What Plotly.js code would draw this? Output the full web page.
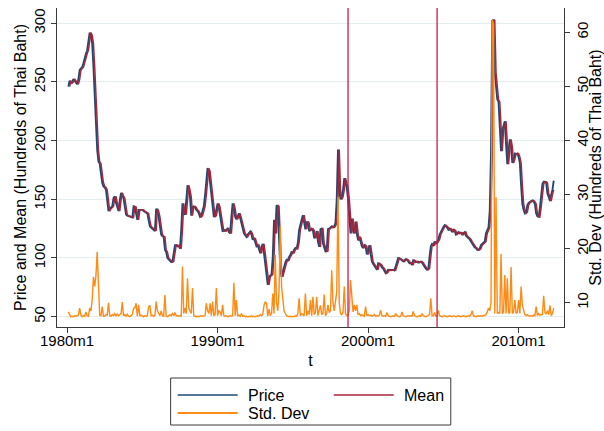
<!DOCTYPE html>
<html><head><meta charset="utf-8">
<script src="https://cdn.plot.ly/plotly-3.0.1.min.js"></script>
<style>html,body{margin:0;padding:0;background:#fff;} #chart{width:604px;height:431px;}</style>
</head><body><div id="chart"></div>
<script>
// ---- data (monthly, Stata %tm style labels) ----
const priceStart = '1980m2';
const priceVals = [
246,251,249,250,252.5,251,249,248,252,260,
261.5,262.5,266,271,274,277,284,292,290,283,
263,237,212,192,182,180.5,172,164,161,160,
158,149,140,142,143.5,144,151,152.5,147,144,
140,149,155.5,153,151,144,137,136,135.5,135,
135,134.5,144,143.5,138,132.5,141,141,140.5,141,
140,139.5,139,138,132,127,126,125,124,123,
142,140,135,129,120,118.5,118,107,105,100,
99,98,96.5,97,102.5,111,111,110,110.5,108,
124,146.5,138,137,149,162,158,152,136,143.5,
144,143,141,140,138,135,136,140,144,153.5,
165,176.5,174,164,158,149.5,135,136,142,146.5,
143,135,126.5,122.5,124,123,124,125,122,121,
135,146.5,142,135,133,136,138,134,129.5,126,
121,119.5,118,120,121,122.5,120,115.5,117,112,
110,111,107,104,109.5,112,104,95.5,87,77,
84,85.5,86,101,132.5,121,145,144,112,90,
84,88,93,96,98.5,98,101,102.5,105.5,104,
107,108.5,108,113,124,130,132.5,136.5,129,124.5,
131,130,123,124,125,123.5,117,118,123,114,
109.5,124.5,125,112.5,109.5,105.5,106,124.5,125,126.5,
127,126,127,130,150,192.5,158,150,152,158,
168,164,160,150,135,121,133.5,124,121,131,
121,115,118,114,110,108.5,111,110,103,105.5,
111,104,97,95,93,91,90,95.5,95,94,
92,91,89,87,88,90,89.5,90,89.5,90,
89.5,93,97,100,99.5,99,98,97,98,99,
98.5,97,95.5,96,94,98,97.5,96.5,97,96,
96.5,97,96,94,93,91,90,91,101,110,
112,111,114,112,114,115.5,120,122.5,124,126.5,
128,127,126,124,125,124,122,124,123,120,
121,122,121,121.5,120,121,122,119,118,117,
116,114,112,110,109,108.5,107,106.8,108,111,
112,113,114,121,124.5,126,140,190,302,303,
258,243,235,233,213,191,209,212,216.5,197,
180,192,201,195,181,184,189,188.5,189,186,
181,162,146,141,138,139,145,147,148,148.5,
149,148,146,138,135.5,135,143,155,163,165,
165,164,155,152,148.5,154,158,166
];
const meanStart = '1980m3';
const meanVals = [
246,251,249,250,252.5,251,249,248,252,260,
261.5,262.5,266,271,274,277,284,292,290,283,
263,237,212,192,182,180.5,172,164,161,160,
158,149,140,142,143.5,144,151,152.5,147,144,
140,149,155.5,153,151,144,137,136,135.5,135,
135,134.5,144,143.5,138,132.5,141,141,140.5,141,
140,139.5,139,138,132,127,126,125,124,123,
142,140,135,129,120,118.5,118,107,105,100,
99,98,96.5,97,102.5,111,111,110,110.5,108,
124,146.5,138,137,149,162,158,152,136,143.5,
144,143,141,140,138,135,136,140,144,153.5,
165,176.5,174,164,158,149.5,135,136,142,146.5,
143,135,126.5,122.5,124,123,124,125,122,121,
135,146.5,142,135,133,136,138,134,129.5,126,
121,119.5,118,120,121,122.5,120,115.5,117,112,
110,111,107,104,109.5,112,104,95.5,87,77,
84,85.5,86,101,132.5,121,145,144,112,90,
84,88,93,96,98.5,98,101,102.5,105.5,104,
107,108.5,108,113,124,130,132.5,136.5,129,124.5,
131,130,123,124,125,123.5,117,118,123,114,
109.5,124.5,125,112.5,109.5,105.5,106,124.5,125,126.5,
127,126,127,130,150,192.5,158,150,152,158,
168,164,160,150,135,121,133.5,124,121,131,
121,115,118,114,110,108.5,111,110,103,105.5,
111,104,97,95,93,91,90,95.5,95,94,
92,91,89,87,88,90,89.5,90,89.5,90,
89.5,93,97,100,99.5,99,98,97,98,99,
98.5,97,95.5,96,94,98,97.5,96.5,97,96,
96.5,97,96,94,93,91,90,91,101,110,
112,111,114,112,114,115.5,120,122.5,124,126.5,
128,127,126,124,125,124,122,124,123,120,
121,122,121,121.5,120,121,122,119,118,117,
116,114,112,110,109,108.5,107,106.8,108,111,
112,113,114,121,124.5,126,140,190,302,303,
258,243,235,233,213,191,209,212,216.5,197,
180,192,201,195,181,184,189,188.5,189,186,
181,162,146,141,138,139,145,147,148,148.5,
149,148,146,138,135.5,135,143,155,163,165,
165,164,155,152,148.5,154,158
];
const sdStart = '1980m2';
const sdVals = [
8.3,7.7,7.4,7.5,7.4,7.6,7.5,7.6,7.7,9.0,
7.7,7.4,7.6,7.5,8.3,7.6,7.5,9.0,8.5,10.5,
14.8,13,15,19.4,14,7.7,7.6,9.3,7.5,7.5,
7.8,7.7,10.0,7.6,7.5,7.8,7.6,8,7.6,7.9,
7.6,7.8,8,10.1,7.6,7.8,7.5,7.9,7.5,7.4,
7.6,7.8,9.0,9.0,9.9,7.5,9.6,7.6,7.7,7.5,
7.4,7.6,7.5,7.6,9.3,9.5,7.6,7.7,7.5,7.6,
10.2,8.5,8,7.6,8.5,7.6,7.5,11.4,7.5,7.4,
7.6,7.8,7.6,8,7.6,8.2,7.6,7.5,7.6,7.6,
7.5,16.7,8,9.0,8,14.5,9,8.5,8,12.7,
7.6,7.5,7.4,7.5,7.4,7.5,7.6,7.5,7.6,7.6,
9.9,8.5,8,9.9,7.6,10.2,7.6,7.8,12.7,7.6,
8.5,8.3,7.6,9.6,7.6,7.5,7.6,7.4,7.5,7.6,
7.5,7.6,13.7,7.6,10.5,7.6,7.7,7.5,8,7.5,
7.6,7.4,7.5,7.4,7.5,7.4,7.6,7.4,7.5,7.4,
7.5,7.6,7.5,7.8,7.6,7.8,9.5,10.2,9.8,7.5,
8.8,7.6,8,11.7,8,18.8,10,8.5,12.3,24.1,
13,10.5,8.5,8,7.6,7.5,7.4,7.5,7.4,7.5,
7.4,7.6,7.5,8,10.8,7.6,8,7.8,7.6,11.7,
7.6,8.5,7.8,10.5,7.6,11.1,7.8,8.2,11.1,7.6,
8.5,9.5,7.8,8,11.5,7.6,8,9.6,8.2,8.5,
16,10,8.5,10.5,12,29.6,10,8,7.8,8.2,
13,8,7.6,7.8,8.5,14.2,10.5,8.3,9.6,8.5,
9.6,7.8,8,7.6,7.8,7.6,7.5,9.3,7.6,7.8,
7.6,7.7,7.5,7.6,7.8,7.5,7.6,7.5,7.7,8.6,
7.6,7.5,7.6,7.5,8.2,7.6,7.5,7.4,7.5,7.6,
7.5,8,7.6,7.5,7.4,7.5,8.3,7.6,7.5,7.4,
7.5,7.6,7.5,7.6,7.5,8.4,7.6,7.5,7.4,7.5,
7.6,7.5,8,7.6,7.5,7.4,7.5,7.6,7.8,10.8,
7.6,7.6,8.2,7.5,7.6,8.6,7.6,7.5,7.4,7.5,
7.6,7.5,7.4,7.5,7.6,7.5,7.4,7.6,7.5,7.4,
7.5,7.6,7.5,7.4,7.5,7.6,7.5,7.4,7.5,7.6,
7.5,7.8,8.5,7.6,7.5,7.4,7.5,7.6,7.5,7.6,
7.5,7.6,7.7,7.8,8.3,9,8.5,10,62.3,61.5,
8,29.5,8,8.2,8,19,8,8.3,15.1,8,
14.5,8,8.2,16.6,8,8.3,10.5,8,8.2,10.5,
8,13,9.5,8.3,7.8,7.6,7.8,7.6,7.5,7.6,
7.5,7.7,7.6,9.3,7.6,8,7.7,7.8,7.8,11.3,
8.2,7.9,8.5,7.8,9.5,7.6,8,9
];
const seriesNames = ['Price', 'Mean', 'Std. Dev'];
const xTickLabels = ['1980m1', '1990m1', '2000m1', '2010m1'];
const leftTicks = [50, 100, 150, 200, 250, 300];
const rightTicks = [10, 20, 30, 40, 50, 60];
const breakMonths = ['1998m9', '2004m8'];

// ---- helpers ----
function tm(s) { const p = s.split('m'); return (Number(p[0]) - 1960) * 12 + (Number(p[1]) - 1); }
function monthsFrom(start, n) { const t0 = tm(start); const a = []; for (let i = 0; i < n; i++) a.push(t0 + i); return a; }

const FONT = 'Liberation Sans, Arial, Helvetica, sans-serif';
const COLORS = ['#1d4a74', '#a3283c', '#ff8a14'];
const WIDTHS = [1.9, 1.5, 1.4];
const LEGEND_WIDTHS = [1.6, 1.6, 2.2];
const VLINE = '#cc1a4a', AXC = '#3a3a3a';

const traces = [
  {x: monthsFrom(priceStart, priceVals.length), y: priceVals, name: seriesNames[0], type: 'scatter', mode: 'lines',
   line: {color: COLORS[0], width: WIDTHS[0]}, showlegend: false},
  {x: monthsFrom(meanStart, meanVals.length), y: meanVals, name: seriesNames[1], type: 'scatter', mode: 'lines',
   line: {color: COLORS[1], width: WIDTHS[1]}, showlegend: false},
  {x: monthsFrom(sdStart, sdVals.length), y: sdVals, name: seriesNames[2], type: 'scatter', mode: 'lines',
   line: {color: COLORS[2], width: WIDTHS[2]}, yaxis: 'y2', showlegend: false}
];

const L = 56.7, R = 564, T = 8, B = 327, W = R - L, H = B - T;
const px2x = v => (v - L) / W;
const px2y = v => (B - v) / H;

// legend layout (2 columns, Stata style) - positions in page pixels
const legendSlots = [{x: 177.5, y: 395}, {x: 333.6, y: 395}, {x: 177.5, y: 413}];
const shapes = breakMonths.map(m => ({type: 'line', xref: 'x', yref: 'paper', x0: tm(m), x1: tm(m), y0: 0, y1: 1,
  line: {color: VLINE, width: 1.3}}));
shapes.push({type: 'rect', xref: 'paper', yref: 'paper', x0: px2x(170.4), x1: px2x(450.7), y0: px2y(378), y1: px2y(425),
  line: {color: AXC, width: 1}, fillcolor: 'rgba(0,0,0,0)'});
const annotations = [];
seriesNames.forEach((nm, i) => {
  const s = legendSlots[i];
  shapes.push({type: 'line', xref: 'paper', yref: 'paper', x0: px2x(s.x), x1: px2x(s.x + 60), y0: px2y(s.y), y1: px2y(s.y),
    line: {color: COLORS[i], width: LEGEND_WIDTHS[i]}});
  annotations.push({text: nm, xref: 'paper', yref: 'paper', x: px2x(s.x + 68), y: px2y(s.y), xanchor: 'left', yanchor: 'middle',
    showarrow: false, font: {family: FONT, size: 16, color: '#000'}});
});

const layout = {
  width: 604, height: 431,
  margin: {l: L, r: 604 - R, t: T, b: 431 - B, pad: 0},
  paper_bgcolor: '#ffffff', plot_bgcolor: '#ffffff',
  font: {family: FONT, size: 15, color: '#000'},
  showlegend: false,
  xaxis: {range: [tm('1980m1') - 8.05, tm('1980m1') + 396.2], tickvals: xTickLabels.map(tm), ticktext: xTickLabels,
    ticks: 'outside', ticklen: 5, tickcolor: AXC, showline: true, linecolor: AXC, linewidth: 1,
    showgrid: false, zeroline: false, tickfont: {size: 15}, ticklabelstandoff: -5,
    title: {text: 't', font: {size: 16}, standoff: 6}, automargin: true},
  yaxis: {range: [41.2, 313], tickvals: leftTicks, tickangle: -90, ticks: 'outside', ticklen: 5, tickcolor: AXC,
    showline: true, linecolor: AXC, linewidth: 1, showgrid: true, gridcolor: '#e3edf0', gridwidth: 1,
    zeroline: false, tickfont: {size: 15},
    title: {text: 'Price and Mean (Hundreds of Thai Baht)', font: {size: 16}, standoff: 0}, automargin: true},
  yaxis2: {overlaying: 'y', side: 'right', range: [5.51, 64.5], tickvals: rightTicks, tickangle: -90,
    ticks: 'outside', ticklen: 5, tickcolor: AXC, showline: true, linecolor: AXC, linewidth: 1,
    showgrid: false, zeroline: false, tickfont: {size: 15},
    title: {text: 'Std. Dev (Hundreds of Thai Baht)', font: {size: 16}}, automargin: false},
  shapes: shapes,
  annotations: annotations
};

Plotly.newPlot('chart', traces, layout, {staticPlot: true, displayModeBar: false});
</script>
</body></html>
